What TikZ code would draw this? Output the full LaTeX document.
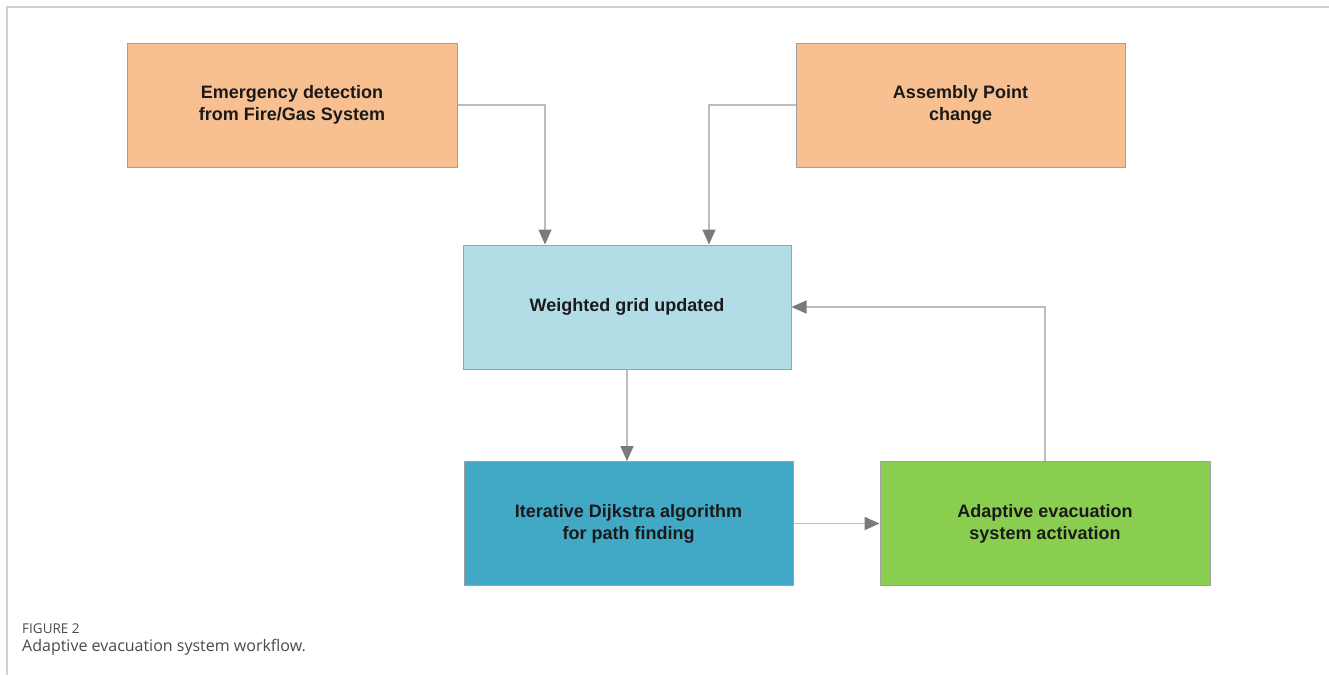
\documentclass[tikz,border=0pt]{standalone}
\usepackage{fontspec}
\setmainfont{Liberation Sans}
\newfontfamily\capfont{Open Sans}
\usetikzlibrary{arrows.meta,positioning}
\definecolor{orangebox}{HTML}{F8BF90}
\definecolor{lightblue}{HTML}{B2DCE6}
\definecolor{tealbox}{HTML}{41A9C5}
\definecolor{greenbox}{HTML}{8ACE50}
\definecolor{framegray}{HTML}{D0D0D0}
\definecolor{linegray}{HTML}{BDBDBD}
\definecolor{tipgray}{HTML}{7A7A7A}
\definecolor{bordergray}{HTML}{A0A0A0}
\definecolor{textdark}{HTML}{1A1A1A}
\definecolor{capgray}{HTML}{4A4A4A}
\tikzset{
  flowbox/.style={draw=bordergray, line width=1pt, minimum width=#1, minimum height=124pt,
    inner sep=0pt, align=center, text=textdark,
    font=\fontsize{18}{22}\selectfont\bfseries},
  conn/.style={draw=linegray, line width=1.6pt,
    -{Triangle[length=15pt,width=13pt,color=tipgray]}},
  frameline/.style={draw=framegray, line width=1.5pt}
}
\begin{document}
\begin{tikzpicture}[x=1pt,y=-1pt]
\useasboundingbox (0,0) rectangle (1329,675);
\fill[white] (0,0) rectangle (1329,675);
\coordinate (f0) at (7,7);
\coordinate (f1) at (1329,7);
\coordinate (f2) at (7,675);
\draw[frameline] (f1) -- (f0) -- (f2);

\node[flowbox=330pt, fill=orangebox] (b1) at (292,105) {Emergency detection\\from Fire/Gas System};
\node[flowbox=329pt, fill=orangebox] (b2) at (960.5,105) {Assembly Point\\change};
\node[flowbox=328pt, fill=lightblue] (b3) at (627,307) {Weighted grid updated};
\node[flowbox=329pt, fill=tealbox] (b4) at (628.5,523.5) {Iterative Dijkstra algorithm\\for path finding};
\node[flowbox=330pt, fill=greenbox] (b5) at (1045,523.5) {Adaptive evacuation\\system activation};

\coordinate (c1) at (545,0);
\coordinate (c2) at (709,0);
\draw[conn] (b1.east) -| (c1 |- b3.north);
\draw[conn] (b2.west) -| (c2 |- b3.north);
\draw[conn] (b3.south) -- (b3.south |- b4.north);
\draw[conn] (b4.east) -- (b5.west);
\draw[conn] (b5.north) |- (b3.east);

\node[anchor=base west, inner sep=0pt, text=capgray, font=\capfont\fontsize{13.5}{15}\selectfont] (fig) at (22,633) {FIGURE 2};
\node[anchor=base west, inner sep=0pt, text=capgray, font=\capfont\fontsize{16}{19}\selectfont] (cap) at (22,651) {Adaptive evacuation system workflow.};
\end{tikzpicture}
\end{document}
